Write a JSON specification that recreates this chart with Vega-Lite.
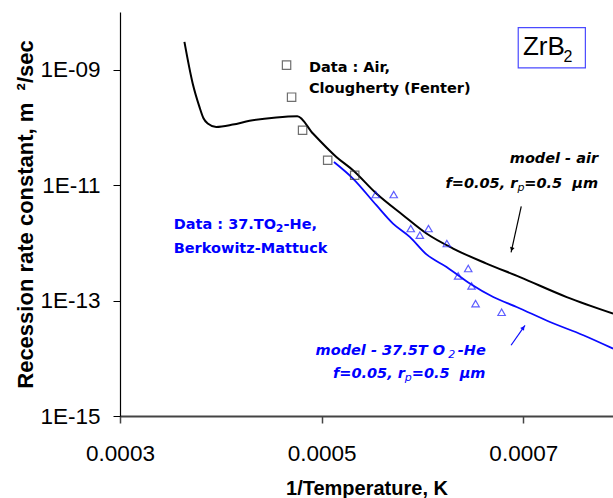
{
  "$schema": "https://vega.github.io/schema/vega-lite/v6.json",
  "width": 493,
  "height": 404,
  "autosize": {"type": "none"},
  "padding": {"left": 120, "top": 12, "right": 0, "bottom": 82},
  "background": "white",
  "config": {
    "view": {"stroke": null},
    "axis": {"labelFont": "Liberation Sans", "titleFont": "Liberation Sans", "labelColor": "#000", "titleColor": "#000", "grid": false}
  },
  "datasets": {
    "modelAir": [
      {"x": 0.0003639, "y": 3.03e-9},
      {"x": 0.0003721, "y": 5.77e-10},
      {"x": 0.0003788, "y": 2.27e-10},
      {"x": 0.0003828, "y": 1.44e-10},
      {"x": 0.000387, "y": 1.17e-10},
      {"x": 0.0003954, "y": 1.02e-10},
      {"x": 0.0004119, "y": 1.12e-10},
      {"x": 0.0004285, "y": 1.30e-10},
      {"x": 0.000455, "y": 1.49e-10},
      {"x": 0.0004759, "y": 1.56e-10},
      {"x": 0.0004914, "y": 7.84e-11},
      {"x": 0.0005146, "y": 3.08e-11},
      {"x": 0.0005311, "y": 1.81e-11},
      {"x": 0.0005543, "y": 7.15e-12},
      {"x": 0.0005808, "y": 3.01e-12},
      {"x": 0.000604, "y": 1.45e-12},
      {"x": 0.0006304, "y": 7.96e-13},
      {"x": 0.0006636, "y": 4.38e-13},
      {"x": 0.0006967, "y": 2.55e-13},
      {"x": 0.0007431, "y": 1.15e-13},
      {"x": 0.0007891, "y": 5.96e-14}
    ],
    "modelTO2": [
      {"x": 0.0005122, "y": 2.52e-11},
      {"x": 0.0005311, "y": 1.30e-11},
      {"x": 0.0005543, "y": 4.49e-12},
      {"x": 0.0005708, "y": 2.16e-12},
      {"x": 0.0005874, "y": 1.27e-12},
      {"x": 0.000604, "y": 6.3e-13},
      {"x": 0.0006239, "y": 3.82e-13},
      {"x": 0.000647, "y": 1.97e-13},
      {"x": 0.0006702, "y": 1.15e-13},
      {"x": 0.0006934, "y": 7.74e-14},
      {"x": 0.0007265, "y": 4.26e-14},
      {"x": 0.0007596, "y": 2.51e-14},
      {"x": 0.0007891, "y": 1.47e-14}
    ],
    "air": [
      {"x": 0.0004652, "y": 1.2e-9},
      {"x": 0.0004702, "y": 3.34e-10},
      {"x": 0.0004811, "y": 8.94e-11},
      {"x": 0.000506, "y": 2.7e-11},
      {"x": 0.0005328, "y": 1.485e-11}
    ],
    "to2": [
      {"x": 0.00055365, "y": 6.87e-12},
      {"x": 0.0005715, "y": 6.87e-12},
      {"x": 0.0005884, "y": 1.77e-12},
      {"x": 0.0005974, "y": 1.355e-12},
      {"x": 0.000606, "y": 1.77e-12},
      {"x": 0.0006242, "y": 9.73e-13},
      {"x": 0.0006454, "y": 3.59e-13},
      {"x": 0.0006354, "y": 2.67e-13},
      {"x": 0.0006487, "y": 1.79e-13},
      {"x": 0.0006527, "y": 8.87e-14},
      {"x": 0.0006785, "y": 6.27e-14}
    ],
    "notes": [
      {"kind": "bk", "x": 0.0004874, "y": 1.074e-9, "text": "Data : Air,"},
      {"kind": "bk", "x": 0.0004874, "y": 4.72e-10, "text": "Clougherty (Fenter)"},
      {"kind": "bir", "x": 0.0007742, "y": 2.89e-11, "text": "model - air"},
      {"kind": "bir", "x": 0.0007742, "y": 1.067e-11, "text": "=0.5\u00a0 \u03bcm"},
      {"kind": "bir", "x": 0.0006942, "y": 1.067e-11, "text": "f=0.05, r"},
      {"kind": "bsub", "x": 0.0006977, "y": 9.08e-12, "text": "p"},
      {"kind": "bl", "x": 0.0003533, "y": 2.02e-12, "text": "Data : 37.TO"},
      {"kind": "bl", "x": 0.0004622, "y": 2.02e-12, "text": "-He,"},
      {"kind": "bl", "x": 0.0003533, "y": 7.96e-13, "text": "Berkowitz-Mattuck"},
      {"kind": "blsub", "x": 0.0004583, "y": 1.72e-12, "text": "2"},
      {"kind": "bli", "x": 0.000494, "y": 1.34e-14, "text": "model - 37.5T O"},
      {"kind": "bli", "x": 0.0006351, "y": 1.34e-14, "text": "-He"},
      {"kind": "bli", "x": 0.0005112, "y": 5.43e-15, "text": "f=0.05, r"},
      {"kind": "bli", "x": 0.0005894, "y": 5.43e-15, "text": "=0.5\u00a0 \u03bcm"},
      {"kind": "blisub", "x": 0.0006291, "y": 1.14e-14, "text": "2"},
      {"kind": "blisub", "x": 0.0005859, "y": 4.63e-15, "text": "p"},
      {"kind": "z", "x": 0.0006997, "y": 2.47e-9, "text": "ZrB"},
      {"kind": "zsub", "x": 0.0007444, "y": 1.67e-9, "text": "2"}
    ],
    "box": [
      {"x": 0.000695, "x2": 0.0007616, "y": 5.38e-9, "y2": 1.074e-9}
    ],
    "arrows": [
      {"kind": "bk", "x": 0.000698, "y": 4.27e-12, "x2": 0.0006879, "y2": 6.87e-13},
      {"kind": "bl", "x": 0.0006879, "y": 1.68e-14, "x2": 0.0007017, "y2": 3.73e-14}
    ],
    "heads": [
      {"kind": "bk", "x": 0.0006886, "y": 7.71e-13},
      {"kind": "bl", "x": 0.0007, "y": 3.38e-14}
    ]
  },
  "layer": [
    {
      "data": {"name": "modelAir"},
      "mark": {"type": "line", "color": "#000000", "strokeWidth": 2, "clip": true, "interpolate": "monotone"},
      "encoding": {
        "x": {
          "field": "x", "type": "quantitative",
          "scale": {"domain": [0.0003, 0.000789], "nice": false, "zero": false},
          "axis": {
            "values": [0.0003, 0.0005, 0.0007], "format": ".4f",
            "title": "1/Temperature, K",
            "labelFontSize": 22.5, "tickSize": 7, "labelPadding": 19,
            "domainColor": "#444444", "domainWidth": 2, "tickColor": "#444444", "tickWidth": 1.5,
            "titleFontSize": 20, "titleFontWeight": "bold", "titlePadding": 14,
            "labelFlush": false, "labelOverlap": false, "labelBound": false
          }
        },
        "y": {
          "field": "y", "type": "quantitative",
          "scale": {"type": "log", "domain": [1e-15, 1e-8], "nice": false},
          "axis": {
            "values": [1e-15, 1e-13, 1e-11, 1e-9],
            "labelExpr": "'1E-' + (round(-log(datum.value)/LN10) < 10 ? '0' : '') + round(-log(datum.value)/LN10)",
            "title": "Recession rate constant, m\u00a0 \u00b2/sec",
            "labelFontSize": 22.5, "tickSize": 7, "labelPadding": 13,
            "domainColor": "#000000", "domainWidth": 1.2, "tickColor": "#000000",
            "titleFontSize": 22, "titleFontWeight": "bold", "titlePadding": 2,
            "labelOverlap": false, "labelBound": false, "labelFlush": false
          }
        }
      }
    },
    {
      "mark": {"type": "rule", "color": "#555555", "strokeWidth": 1.2},
      "encoding": {"y": {"datum": 1e-8, "type": "quantitative"}}
    },
    {
      "data": {"name": "modelTO2"},
      "mark": {"type": "line", "color": "#0a0aff", "strokeWidth": 1.8, "clip": true, "interpolate": "monotone"},
      "encoding": {
        "x": {"field": "x", "type": "quantitative"},
        "y": {"field": "y", "type": "quantitative"}
      }
    },
    {
      "data": {"name": "air"},
      "mark": {"type": "point", "shape": "square", "size": 70, "filled": false, "color": "#333333", "strokeWidth": 1.2},
      "encoding": {
        "x": {"field": "x", "type": "quantitative"},
        "y": {"field": "y", "type": "quantitative"}
      }
    },
    {
      "data": {"name": "to2"},
      "mark": {"type": "point", "shape": "triangle-up", "size": 55, "filled": false, "color": "#1a1aff", "strokeWidth": 1.2},
      "encoding": {
        "x": {"field": "x", "type": "quantitative"},
        "y": {"field": "y", "type": "quantitative"}
      }
    },
    {
      "data": {"name": "arrows"},
      "transform": [{"filter": "datum.kind == 'bk'"}],
      "mark": {"type": "rule", "color": "#000000", "strokeWidth": 1.2},
      "encoding": {
        "x": {"field": "x", "type": "quantitative"},
        "y": {"field": "y", "type": "quantitative"},
        "x2": {"field": "x2"},
        "y2": {"field": "y2"}
      }
    },
    {
      "data": {"name": "arrows"},
      "transform": [{"filter": "datum.kind == 'bl'"}],
      "mark": {"type": "rule", "color": "#0a0aff", "strokeWidth": 1.2},
      "encoding": {
        "x": {"field": "x", "type": "quantitative"},
        "y": {"field": "y", "type": "quantitative"},
        "x2": {"field": "x2"},
        "y2": {"field": "y2"}
      }
    },
    {
      "data": {"name": "heads"},
      "transform": [{"filter": "datum.kind == 'bk'"}],
      "mark": {"type": "point", "shape": "triangle-up", "size": 22, "filled": true, "opacity": 1, "color": "#000000", "angle": 196},
      "encoding": {
        "x": {"field": "x", "type": "quantitative"},
        "y": {"field": "y", "type": "quantitative"}
      }
    },
    {
      "data": {"name": "heads"},
      "transform": [{"filter": "datum.kind == 'bl'"}],
      "mark": {"type": "point", "shape": "triangle-up", "size": 22, "filled": true, "opacity": 1, "color": "#0a0aff", "angle": 35},
      "encoding": {
        "x": {"field": "x", "type": "quantitative"},
        "y": {"field": "y", "type": "quantitative"}
      }
    },
    {
      "data": {"name": "box"},
      "mark": {"type": "rect", "fill": "white", "stroke": "#4a4aff", "strokeWidth": 1.2},
      "encoding": {
        "x": {"field": "x", "type": "quantitative"},
        "x2": {"field": "x2"},
        "y": {"field": "y", "type": "quantitative"},
        "y2": {"field": "y2"}
      }
    },
    {
      "data": {"name": "notes"},
      "transform": [{"filter": "datum.kind == 'bk'"}],
      "mark": {"type": "text", "font": "DejaVu Sans", "fontWeight": "bold", "fontSize": 14.5, "align": "left", "baseline": "middle", "color": "#000000"},
      "encoding": {"x": {"field": "x", "type": "quantitative"}, "y": {"field": "y", "type": "quantitative"}, "text": {"field": "text"}}
    },
    {
      "data": {"name": "notes"},
      "transform": [{"filter": "datum.kind == 'bir'"}],
      "mark": {"type": "text", "font": "DejaVu Sans", "fontWeight": "bold", "fontStyle": "italic", "fontSize": 14.5, "align": "right", "baseline": "middle", "color": "#000000"},
      "encoding": {"x": {"field": "x", "type": "quantitative"}, "y": {"field": "y", "type": "quantitative"}, "text": {"field": "text"}}
    },
    {
      "data": {"name": "notes"},
      "transform": [{"filter": "datum.kind == 'bsub'"}],
      "mark": {"type": "text", "font": "DejaVu Sans", "fontStyle": "italic", "fontSize": 11, "align": "center", "baseline": "middle", "color": "#000000"},
      "encoding": {"x": {"field": "x", "type": "quantitative"}, "y": {"field": "y", "type": "quantitative"}, "text": {"field": "text"}}
    },
    {
      "data": {"name": "notes"},
      "transform": [{"filter": "datum.kind == 'bl'"}],
      "mark": {"type": "text", "font": "DejaVu Sans", "fontWeight": "bold", "fontSize": 14.5, "align": "left", "baseline": "middle", "color": "#0000ff"},
      "encoding": {"x": {"field": "x", "type": "quantitative"}, "y": {"field": "y", "type": "quantitative"}, "text": {"field": "text"}}
    },
    {
      "data": {"name": "notes"},
      "transform": [{"filter": "datum.kind == 'blsub'"}],
      "mark": {"type": "text", "font": "DejaVu Sans", "fontWeight": "bold", "fontSize": 11, "align": "center", "baseline": "middle", "color": "#0000ff"},
      "encoding": {"x": {"field": "x", "type": "quantitative"}, "y": {"field": "y", "type": "quantitative"}, "text": {"field": "text"}}
    },
    {
      "data": {"name": "notes"},
      "transform": [{"filter": "datum.kind == 'bli'"}],
      "mark": {"type": "text", "font": "DejaVu Sans", "fontWeight": "bold", "fontStyle": "italic", "fontSize": 14.5, "align": "left", "baseline": "middle", "color": "#0000ff"},
      "encoding": {"x": {"field": "x", "type": "quantitative"}, "y": {"field": "y", "type": "quantitative"}, "text": {"field": "text"}}
    },
    {
      "data": {"name": "notes"},
      "transform": [{"filter": "datum.kind == 'blisub'"}],
      "mark": {"type": "text", "font": "DejaVu Sans", "fontStyle": "italic", "fontSize": 11, "align": "center", "baseline": "middle", "color": "#0000ff"},
      "encoding": {"x": {"field": "x", "type": "quantitative"}, "y": {"field": "y", "type": "quantitative"}, "text": {"field": "text"}}
    },
    {
      "data": {"name": "notes"},
      "transform": [{"filter": "datum.kind == 'z'"}],
      "mark": {"type": "text", "font": "Liberation Sans", "fontSize": 26, "align": "left", "baseline": "middle", "color": "#000000"},
      "encoding": {"x": {"field": "x", "type": "quantitative"}, "y": {"field": "y", "type": "quantitative"}, "text": {"field": "text"}}
    },
    {
      "data": {"name": "notes"},
      "transform": [{"filter": "datum.kind == 'zsub'"}],
      "mark": {"type": "text", "font": "Liberation Sans", "fontSize": 16, "align": "center", "baseline": "middle", "color": "#000000"},
      "encoding": {"x": {"field": "x", "type": "quantitative"}, "y": {"field": "y", "type": "quantitative"}, "text": {"field": "text"}}
    }
  ]
}
